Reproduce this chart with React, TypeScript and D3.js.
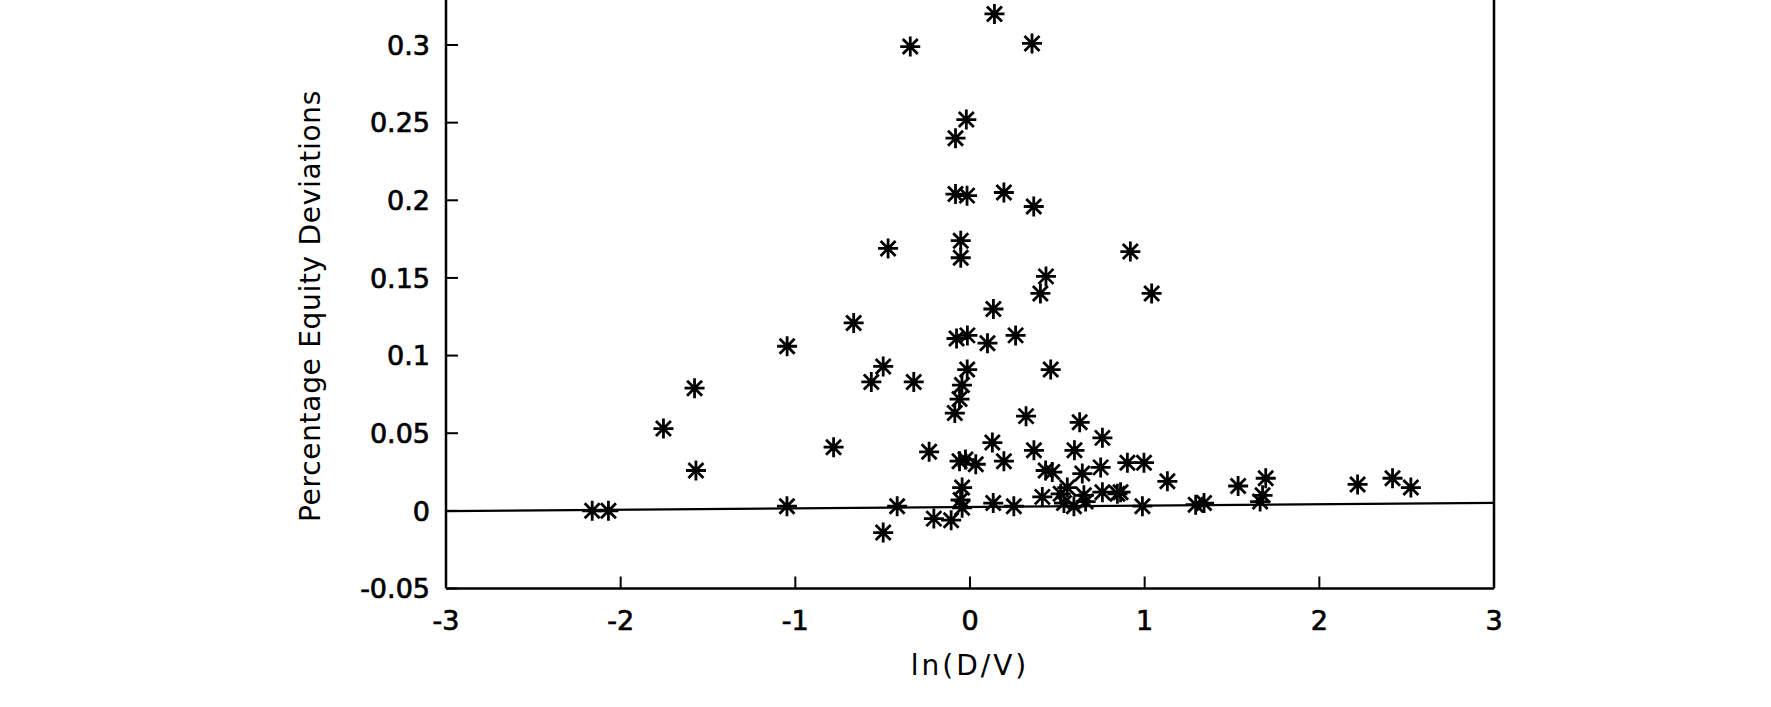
import React from "react";
import * as d3 from "d3";

// ln(D/V) values (x) and percentage equity deviations (y)
const lnDV: number[] = [
  0.14, -0.342, 0.355, -0.021, -0.083, -0.083, -0.017, 0.194, 0.365, -0.469,
  -0.053, -0.053, 0.918, 0.435, 0.403, 1.04, 0.134, -0.666, -1.047, -0.077,
  -0.015, 0.1, 0.261, -0.497, -0.565, -0.322, -0.016, -0.046, -0.06, -0.087,
  0.462, -1.577, -1.755, -1.569, -0.781, -0.234, 0.321, 0.628, 0.758, 0.128,
  0.366, 0.598, -0.06, -0.026, 0.033, 0.194, 0.433, 0.471, 0.748, 0.901,
  0.996, 0.643, 1.13, 1.535, 1.693, 1.675, 1.661, 2.219, 2.419, 2.524,
  -0.045, -0.054, -0.045, 0.414, 0.519, 0.538, 0.557, 0.595, 0.652, 0.662,
  0.758, 0.844, 0.862, 0.987, 1.292, 1.34, 0.133, 0.251, -0.417, -0.207,
  -0.108, -0.497, -1.048, -2.07, -2.163,
];
const equityDev: number[] = [
  0.32, 0.299, 0.301, 0.252, 0.24, 0.204, 0.203, 0.205, 0.196, 0.169,
  0.174, 0.163, 0.167, 0.151, 0.14, 0.14, 0.13, 0.121, 0.106, 0.111,
  0.113, 0.108, 0.113, 0.093, 0.083, 0.083, 0.091, 0.081, 0.072, 0.063,
  0.091, 0.079, 0.053, 0.026, 0.041, 0.038, 0.061, 0.057, 0.047, 0.044,
  0.039, 0.039, 0.032, 0.033, 0.03, 0.032, 0.026, 0.025, 0.028, 0.031,
  0.031, 0.024, 0.019, 0.016, 0.021, 0.01, 0.006, 0.017, 0.021, 0.015,
  0.015, 0.007, 0.002, 0.009, 0.011, 0.005, 0.015, 0.003, 0.01, 0.006,
  0.012, 0.011, 0.012, 0.003, 0.004, 0.005, 0.005, 0.003, 0.003, -0.005,
  -0.006, -0.014, 0.003, 0.0, 0.0,
];

// fitted line end points
const fitX: number[] = [-3, 3];
const fitY: number[] = [-0.0002, 0.0052];

const xTicks: number[] = [-3, -2, -1, 0, 1, 2, 3];
const xTickLabels: string[] = ["-3", "-2", "-1", "0", "1", "2", "3"];
const yTicks: number[] = [-0.05, 0, 0.05, 0.1, 0.15, 0.2, 0.25, 0.3];
const yTickLabels: string[] = ["-0.05", "0", "0.05", "0.1", "0.15", "0.2", "0.25", "0.3"];

const xTitle = "ln(D/V)";
const yTitle = "Percentage Equity Deviations";

export default function App() {
  const W = 1771;
  const H = 707;
  const left = 446;
  const right = 1494;
  const bottom = 588.5;
  const x = d3.scaleLinear().domain([-3, 3]).range([left, right]);
  const y = d3.scaleLinear().domain([-0.05, 0.3]).range([bottom, 45]);

  const r = 10;
  const dg = r * 0.75;
  const star = (cx: number, cy: number) =>
    `M${cx - r},${cy}L${cx + r},${cy}M${cx},${cy - r}L${cx},${cy + r}` +
    `M${cx - dg},${cy - dg}L${cx + dg},${cy + dg}M${cx - dg},${cy + dg}L${cx + dg},${cy - dg}`;

  const line = d3
    .line<number>()
    .x((_, i) => x(fitX[i]))
    .y((d) => y(d));

  const font = "'DejaVu Sans', Arial, sans-serif";
  const tickLen = 12;

  return (
    <svg
      width={W}
      height={H}
      style={{ position: "absolute", left: 0, top: 0, background: "#fff" }}
    >
      <rect x={0} y={0} width={W} height={H} fill="#fff" />
      {/* axes frame */}
      <g stroke="#000" strokeWidth={2.5} fill="none">
        <line x1={left} y1={0} x2={left} y2={bottom} />
        <line x1={right} y1={0} x2={right} y2={bottom} />
        <line x1={left} y1={bottom} x2={right} y2={bottom} />
      </g>
      {/* y ticks */}
      <g>
        {yTicks.map((t, i) => (
          <g key={"yt" + i}>
            <line
              x1={left}
              x2={left + tickLen}
              y1={y(t)}
              y2={y(t)}
              stroke="#000"
              strokeWidth={2}
            />
            <text
              x={left - 16}
              y={y(t)}
              dy="0.36em"
              textAnchor="end"
              fontFamily={font}
              fontSize={27}
              fill="#000"
              stroke="#000"
              strokeWidth={0.7}
            >
              {yTickLabels[i]}
            </text>
          </g>
        ))}
      </g>
      {/* x ticks */}
      <g>
        {xTicks.map((t, i) => (
          <g key={"xt" + i}>
            {t > -3 && t < 3 && (
              <line
                x1={x(t)}
                x2={x(t)}
                y1={bottom}
                y2={bottom - tickLen}
                stroke="#000"
                strokeWidth={2}
              />
            )}
            <text
              x={x(t)}
              y={630}
              textAnchor="middle"
              fontFamily={font}
              fontSize={27}
              fill="#000"
              stroke="#000"
              strokeWidth={0.7}
            >
              {xTickLabels[i]}
            </text>
          </g>
        ))}
      </g>
      {/* fitted line */}
      <path d={line(fitY) || ""} stroke="#000" strokeWidth={2.2} fill="none" />
      {/* points */}
      <g stroke="#000" strokeWidth={2.8} fill="none">
        {lnDV.map((v, i) => (
          <path key={"p" + i} d={star(x(v), y(equityDev[i]))} />
        ))}
      </g>
      {/* titles */}
      <text
        x={x(0)}
        y={675}
        textAnchor="middle"
        fontFamily={font}
        fontSize={28}
        letterSpacing={3}
        fill="#000"
      >
        {xTitle}
      </text>
      <text
        transform={`translate(320, 306) rotate(-90)`}
        textAnchor="middle"
        fontFamily={font}
        fontSize={28}
        letterSpacing={0.7}
        fill="#000"
      >
        {yTitle}
      </text>
    </svg>
  );
}
